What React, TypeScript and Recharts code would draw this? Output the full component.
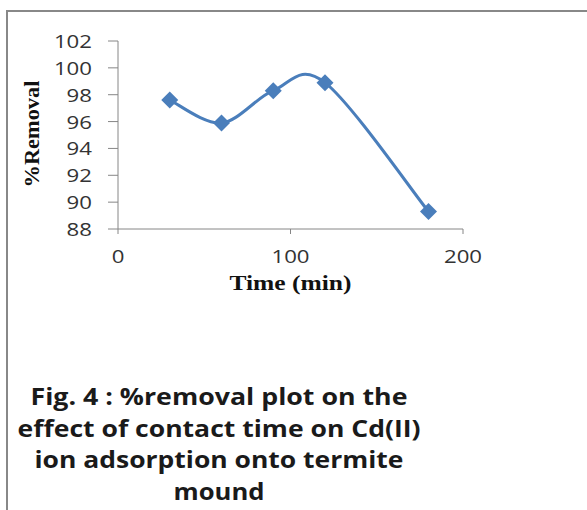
import React from 'react';
import { LineChart, Line, XAxis, YAxis } from 'recharts';

// contact time (min) vs % removal of Cd(II)
const times = [30, 60, 90, 120, 180];
const removal = [97.6, 95.9, 98.3, 98.9, 89.3];
const xTicks = [0, 100, 200];
const yTicks = [88, 90, 92, 94, 96, 98, 100, 102];
const captionLines = [
  'Fig. 4 : %removal plot on the',
  'effect of contact time on Cd(II)',
  'ion adsorption onto termite',
  'mound',
];
const captionWidths = [377, 403, 369, 91];

const data = times.map((t, i) => ({ time: t, removal: removal[i] }));

const BLUE = '#4a7ebb';
const AXIS = '#868686';

// Excel-like smoothed line (Catmull-Rom as bezier)
const excelCurve = (context: any) => {
  let pts: number[][] = [];
  return {
    areaStart() {},
    areaEnd() {},
    lineStart() {
      pts = [];
    },
    point(x: number, y: number) {
      pts.push([+x, +y]);
    },
    lineEnd() {
      if (!pts.length) return;
      context.moveTo(pts[0][0], pts[0][1]);
      for (let i = 0; i < pts.length - 1; i++) {
        const p0 = pts[i - 1] || pts[i];
        const p1 = pts[i];
        const p2 = pts[i + 1];
        const p3 = pts[i + 2] || p2;
        context.bezierCurveTo(
          p1[0] + (p2[0] - p0[0]) / 6,
          p1[1] + (p2[1] - p0[1]) / 6,
          p2[0] - (p3[0] - p1[0]) / 6,
          p2[1] - (p3[1] - p1[1]) / 6,
          p2[0],
          p2[1]
        );
      }
    },
  };
};

const Diamond = (props: any) => {
  const { cx, cy, index } = props;
  const r = 8.5;
  return (
    <path
      key={`d-${index}`}
      d={`M${cx},${cy - r}L${cx + r},${cy}L${cx},${cy + r}L${cx - r},${cy}Z`}
      fill={BLUE}
    />
  );
};

const tickFont = { fontFamily: '"Open Sans", sans-serif', fontSize: 18, fill: '#333' };

const YTick = (props: any) => {
  const { x, y, payload } = props;
  const s = String(payload.value);
  return (
    <text x={x} y={y} textAnchor="end" dominantBaseline="central" textLength={s.length * 12.7} lengthAdjust="spacingAndGlyphs" {...tickFont}>
      {s}
    </text>
  );
};

const XTick = (props: any) => {
  const { x, y, payload } = props;
  const s = String(payload.value);
  return (
    <text x={x} y={y} dy="0.75em" textAnchor="middle" textLength={s.length * 12.7} lengthAdjust="spacingAndGlyphs" {...tickFont}>
      {s}
    </text>
  );
};

const labelFont = { fontFamily: '"Liberation Serif", "Times New Roman", serif', fontWeight: 700, fill: '#111' };

const XLabel = (props: any) => {
  const vb = props.viewBox;
  return (
    <text x={vb.x + vb.width / 2} y={vb.y + 61} textAnchor="middle" fontSize={22} textLength={122} lengthAdjust="spacingAndGlyphs" {...labelFont}>
      Time (min)
    </text>
  );
};

const YLabel = (props: any) => {
  const vb = props.viewBox;
  const cx = vb.x - 26;
  const cy = vb.y + vb.height / 2 - 1;
  return (
    <text x={cx} y={cy} transform={`rotate(-90, ${cx}, ${cy})`} textAnchor="middle" dominantBaseline="central" fontSize={21} textLength={107} lengthAdjust="spacingAndGlyphs" {...labelFont}>
      %Removal
    </text>
  );
};

export default function App() {
  return (
    <div style={{ position: 'absolute', left: 0, top: 0, width: 587, height: 510, background: '#fff', overflow: 'hidden' }}>
      <div style={{ position: 'absolute', left: 6, top: 10, width: 581, height: 500, borderTop: '2px solid #888', borderLeft: '2px solid #888' }} />
      <div style={{ position: 'absolute', left: 0, top: 0 }}>
        <LineChart width={587} height={510} data={data} margin={{ top: 41, right: 124, bottom: 251, left: 58 }}>
          <XAxis
            type="number"
            dataKey="time"
            domain={[0, 200]}
            ticks={xTicks}
            tickSize={5}
            tickMargin={15}
            height={30}
            stroke={AXIS}
            tick={<XTick />}
            label={XLabel}
          />
          <YAxis
            type="number"
            domain={[88, 102]}
            ticks={yTicks}
            width={60}
            tickSize={10}
            tickMargin={16}
            stroke={AXIS}
            tick={<YTick />}
            label={YLabel}
          />
          <Line
            type={excelCurve as any}
            dataKey="removal"
            stroke={BLUE}
            strokeWidth={3}
            dot={Diamond}
            activeDot={false}
            isAnimationActive={false}
          />
        </LineChart>
      </div>
      <svg width={587} height={510} style={{ position: 'absolute', left: 0, top: 0, pointerEvents: 'none' }}>
        {captionLines.map((line, i) => (
          <text
            key={i}
            x={219}
            y={405 + i * 31.5}
            textAnchor="middle"
            fontFamily='"Open Sans", sans-serif'
            fontWeight={700}
            fontSize={23}
            fill="#1a1a1a"
            textLength={captionWidths[i]}
            lengthAdjust="spacingAndGlyphs"
          >
            {line}
          </text>
        ))}
      </svg>
    </div>
  );
}
